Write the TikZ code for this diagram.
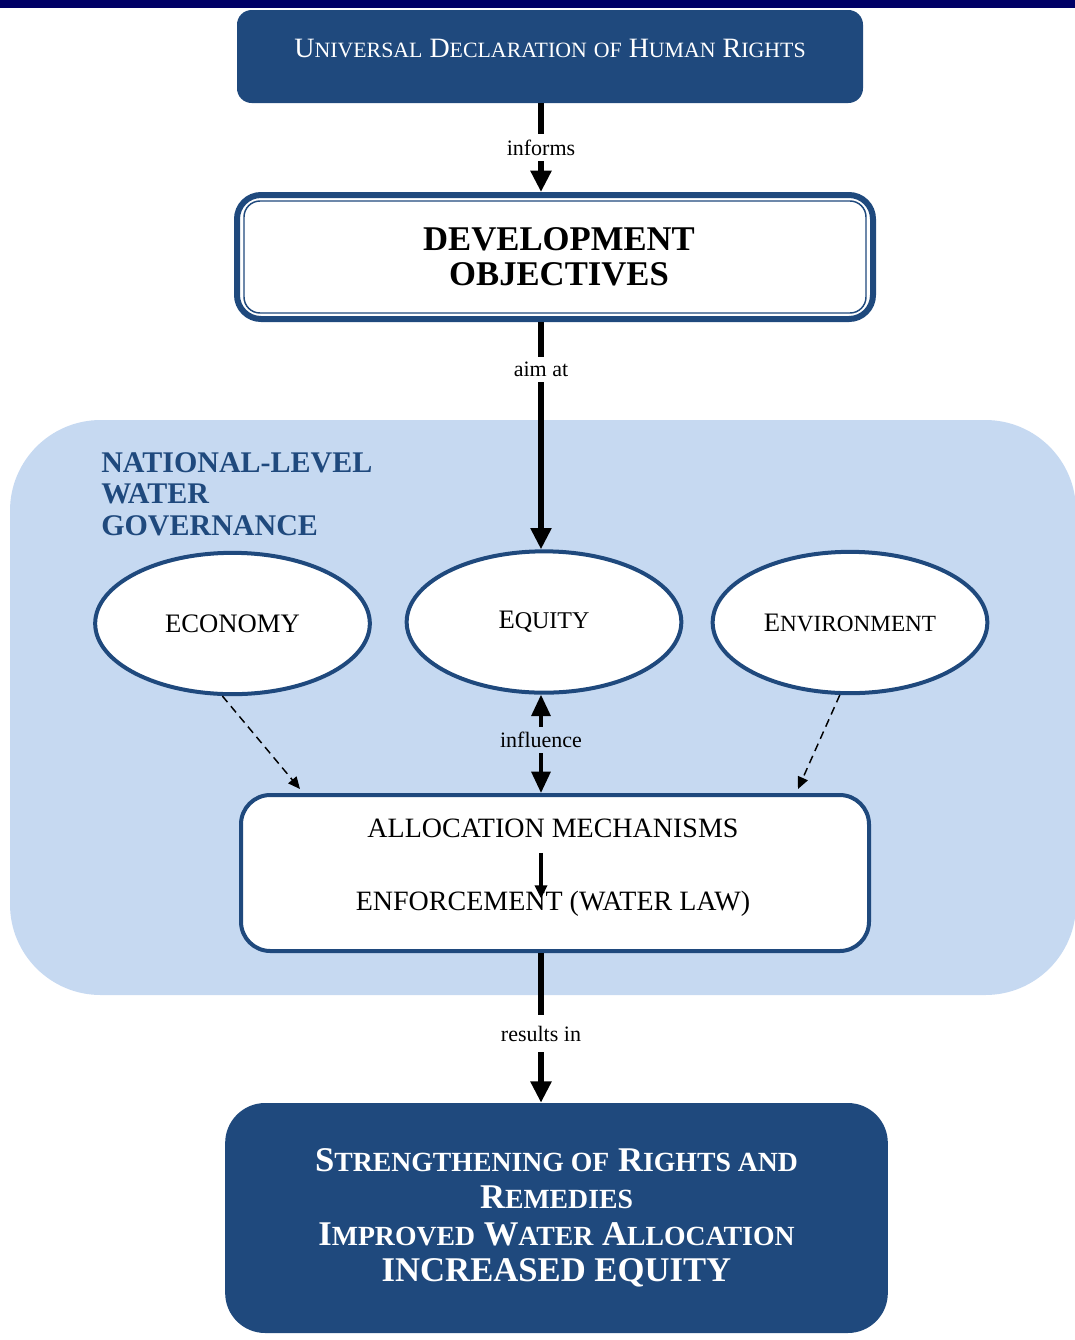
\documentclass[tikz,border=0pt]{standalone}
\usepackage{fontspec}
\setmainfont{Liberation Serif}
\usetikzlibrary{shapes.geometric,arrows.meta,calc}

\definecolor{navy}{RGB}{31,73,125}
\definecolor{paleblue}{RGB}{198,217,241}
\definecolor{topbar}{RGB}{0,0,102}

% small capitals built from reduced upper-case letters
\makeatletter
\newcommand\lowcap[2][0.78]{{\fontsize{\the\dimexpr #1\dimexpr\f@size pt\relax\relax}{0pt}\selectfont #2}}
\makeatother

\begin{document}
\begin{tikzpicture}[x=0.75pt,y=-0.75pt,
  darkbox/.style={rectangle, fill=navy, text=white, align=center, inner sep=0pt},
  whitebox/.style={rectangle, draw=navy, fill=white, align=center, inner sep=0pt},
  oval/.style={ellipse, draw=navy, line width=3pt, fill=white, inner sep=0pt,
    minimum width=206pt, minimum height=106pt, font=\fontsize{20}{24}\selectfont},
  lbl/.style={font=\fontsize{16.5}{19}\selectfont, inner xsep=3pt, inner ysep=4pt},
  mainarrow/.style={line width=5pt, -{Triangle[width=15pt,length=16pt]}},
  twoway/.style={line width=3pt, {Triangle[width=14pt,length=16pt]}-{Triangle[width=14pt,length=16pt]}},
  smallarrow/.style={line width=2.5pt, -{Triangle[width=9pt,length=10pt]}},
  dasharrow/.style={line width=1.1pt, dash pattern=on 6pt off 4pt, -{Triangle[width=8pt,length=9pt]}},
  bodytext/.style={font=\fontsize{21}{25}\selectfont}
]
\useasboundingbox (0,0) rectangle (1075,1340);
\clip (0,0) rectangle (1075,1340);

% page band and national-level panel
\fill[topbar] (0,0) rectangle (1075,8);
\fill[paleblue, rounded corners=68pt] (10,420) rectangle (1076,995);

\coordinate (ax) at (541,0);

% top box
\node[darkbox, minimum width=469.5pt, minimum height=69.75pt, rounded corners=11pt,
      text depth=13pt, font=\fontsize{21}{25}\selectfont] (udhr) at (550,56.5)
  {U\lowcap{NIVERSAL} D\lowcap{ECLARATION} \lowcap{OF} H\lowcap{UMAN} R\lowcap{IGHTS}};

% development objectives, double frame
\node[whitebox, line width=4.5pt, minimum width=477pt, minimum height=93pt, rounded corners=18pt,
      font=\bfseries\fontsize{26}{26.5}\selectfont] (devobj) at (555,257)
  {\hspace*{6pt}DEVELOPMENT\\\hspace*{6pt}OBJECTIVES};
\draw[navy, line width=1.1pt, rounded corners=12pt]
  ($(devobj.north west)+(10,9)$) rectangle ($(devobj.south east)+(-10,-9)$);

% panel title
\node[anchor=north west, align=left, inner sep=0pt, text=navy,
      font=\bfseries\fontsize{22.5}{23.6}\selectfont] (title) at (101,452)
  {NATIONAL-LEVEL\\WATER\\GOVERNANCE};

% three pillars
\node[oval] (eco) at (232.5,623.5) {ECONOMY};
\node[oval] (eq)  at (544,622) {E\lowcap[0.9]{QUITY}};
\node[oval, minimum width=206pt] (env) at (850,622.5) {E\lowcap[0.87]{NVIRONMENT}};

% allocation box
\node[whitebox, line width=3pt, minimum width=471pt, minimum height=117pt, rounded corners=22pt]
  (alloc) at (555,873) {};
\node[bodytext] (am)  at (553,828) {ALLOCATION MECHANISMS};
\node[bodytext] (enf) at (553,904) {ENFORCEMENT (WATER LAW)};

% result box
\node[darkbox, minimum width=497pt, minimum height=172.5pt, rounded corners=30pt,
      font=\bfseries\fontsize{26}{27.5}\selectfont] (res) at (556.5,1218)
  {S\lowcap[0.8]{TRENGTHENING OF} R\lowcap[0.8]{IGHTS AND}\\
   R\lowcap[0.8]{EMEDIES}\\
   I\lowcap[0.8]{MPROVED} W\lowcap[0.8]{ATER} A\lowcap[0.8]{LLOCATION}\\
   INCREASED EQUITY};

\coordinate (ecotip) at (300,789);
\coordinate (envtip) at (798,789);

% connectors
\draw[mainarrow] (udhr.south -| ax) -- node[lbl, fill=white] {informs} (devobj.north -| ax);
\draw[mainarrow] (devobj.south -| ax) -- node[lbl, fill=white, pos=0.21] {aim at} (eq.north -| ax);
\draw[twoway] (eq.south -| ax) -- node[lbl, fill=paleblue, pos=0.46] {influence} (alloc.north -| ax);
\draw[mainarrow] (alloc.south -| ax) -- node[lbl, fill=white, pos=0.54, inner ysep=8pt] {results in} (res.north -| ax);
\draw[smallarrow, shorten <=8pt, shorten >=-9pt] (am.south -| ax) -- (enf.north -| ax);
\draw[dasharrow] (eco.262) -- (ecotip);
\draw[dasharrow] (env.262) -- (envtip);
\end{tikzpicture}
\end{document}
